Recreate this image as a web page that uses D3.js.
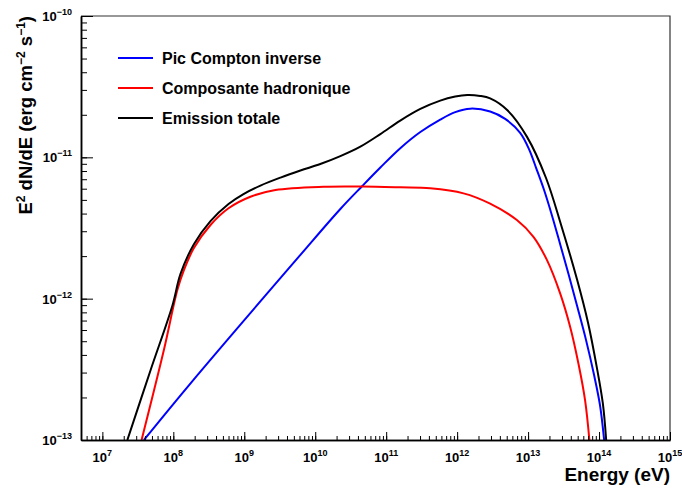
<!DOCTYPE html>
<html>
<head>
<meta charset="utf-8">
<script src="https://cdn.jsdelivr.net/npm/d3@7"></script>
<style>
  html, body { margin: 0; padding: 0; background: #fff; }
  svg { display: block; font-family: "Liberation Sans", Arial, Helvetica, sans-serif; font-weight: bold; }
</style>
</head>
<body>
<svg id="chart" width="682" height="488"></svg>
<script>
// ---- data ----
const seriesNames = ["Pic Compton inverse", "Composante hadronique", "Emission totale"];
const seriesColors = ["#0000ff", "#ff0000", "#000000"];

const icEnergy = [3.85e7, 1.75e8, 6.18e9, 2.26e10, 4.61e10, 8.28e10, 1.58e11, 3.03e11, 5.78e11, 9.40e11, 1.53e12, 2.92e12, 4.75e12, 7.73e12, 1.04e13, 1.30e13, 1.68e13, 2.18e13, 2.83e13, 3.72e13, 4.91e13, 6.56e13, 8.51e13, 1.03e14, 1.18e14];
const icFlux   = [1.0e-13, 2.52e-13, 2.04e-12, 4.31e-12, 6.27e-12, 8.47e-12, 1.16e-11, 1.51e-11, 1.85e-11, 2.09e-11, 2.21e-11, 2.11e-11, 1.87e-11, 1.49e-11, 1.13e-11, 8.39e-12, 5.87e-12, 3.85e-12, 2.43e-12, 1.49e-12, 8.87e-13, 5.09e-13, 2.88e-13, 1.77e-13, 1.0e-13];

const hadEnergy = [3.57e7, 7.36e7, 1.14e8, 1.41e8, 1.95e8, 3.34e8, 6.0e8, 1.22e9, 2.75e9, 1.31e10, 4.57e10, 1.58e11, 4.18e11, 1.23e12, 2.87e12, 6.95e12, 1.19e13, 1.84e13, 2.83e13, 3.91e13, 5.12e13, 6.36e13, 7.31e13];
const hadFlux   = [1.0e-13, 4.33e-13, 1.15e-12, 1.59e-12, 2.28e-12, 3.32e-12, 4.36e-12, 5.26e-12, 5.87e-12, 6.19e-12, 6.21e-12, 6.13e-12, 6.04e-12, 5.56e-12, 4.72e-12, 3.60e-12, 2.74e-12, 1.88e-12, 1.09e-12, 6.33e-13, 3.48e-13, 1.91e-13, 1.0e-13];

const totEnergy = [2.25e7, 4.79e7, 9.77e7, 1.26e8, 1.95e8, 3.34e8, 6.0e8, 9.75e8, 1.69e9, 3.24e9, 6.18e9, 1.18e10, 2.26e10, 4.33e10, 8.28e10, 1.58e11, 3.03e11, 5.78e11, 9.40e11, 1.39e12, 2.11e12, 2.92e12, 5.07e12, 9.70e12, 1.79e13, 2.92e13, 4.91e13, 7.02e13, 9.29e13, 1.13e14, 1.26e14];
const totFlux   = [1.0e-13, 3.13e-13, 9.02e-13, 1.49e-12, 2.43e-12, 3.54e-12, 4.68e-12, 5.50e-12, 6.31e-12, 7.19e-12, 8.07e-12, 8.97e-12, 1.02e-11, 1.19e-11, 1.46e-11, 1.82e-11, 2.20e-11, 2.52e-11, 2.69e-11, 2.76e-11, 2.72e-11, 2.61e-11, 2.16e-11, 1.39e-11, 7.14e-12, 3.32e-12, 1.36e-12, 6.71e-13, 3.28e-13, 1.82e-13, 1.0e-13];

const xTickExponents = [7, 8, 9, 10, 11, 12, 13, 14, 15];
const yTickExponents = [-13, -12, -11, -10];
const xDomain = [5e6, 1e15];
const yDomain = [1e-13, 1e-10];
const xTitle = "Energy (eV)";

// ---- layout ----
const L = 81, R = 670, T = 16, B = 440;
const svg = d3.select("#chart");
const x = d3.scaleLog().domain(xDomain).range([L, R]);
const y = d3.scaleLog().domain(yDomain).range([B, T]);

// frame (top/right)
svg.append("path")
  .attr("d", `M${L},${T}H${R}V${B}`)
  .attr("fill", "none").attr("stroke", "#333").attr("stroke-width", 1.2);

// clip
svg.append("defs").append("clipPath").attr("id", "plotclip")
  .append("rect").attr("x", L).attr("y", T).attr("width", R - L).attr("height", B - T);

// curves
const series = [
  { e: icEnergy, f: icFlux },
  { e: hadEnergy, f: hadFlux },
  { e: totEnergy, f: totFlux }
];
const line = d3.line()
  .x(d => x(d[0])).y(d => y(d[1]))
  .curve(d3.curveCatmullRom.alpha(0.5));
const gCurves = svg.append("g").attr("clip-path", "url(#plotclip)");
series.forEach((s, i) => {
  const pts = s.e.map((v, k) => [v, s.f[k]]);
  gCurves.append("path")
    .datum(pts)
    .attr("d", line)
    .attr("fill", "none")
    .attr("stroke", seriesColors[i])
    .attr("stroke-width", 2)
    .attr("stroke-linejoin", "round");
});

// x axis: ticks inside (pointing up)
const xMinor = [];
for (let p = 6; p < 15; p++) for (let m = 1; m < 10; m++) {
  const v = m * Math.pow(10, p);
  if (v >= xDomain[0] && v <= xDomain[1]) xMinor.push(v);
}
const xMajorVals = xTickExponents.map(p => Math.pow(10, p));
const xAxisMinor = d3.axisBottom(x).tickValues(xMinor).tickSizeInner(-4).tickSizeOuter(0).tickFormat("");
const xAxisMajor = d3.axisBottom(x).tickValues(xMajorVals).tickSizeInner(-8).tickSizeOuter(0).tickFormat("");
const gx1 = svg.append("g").attr("transform", `translate(0,${B})`).call(xAxisMinor);
const gx2 = svg.append("g").attr("transform", `translate(0,${B})`).call(xAxisMajor);
[gx1, gx2].forEach(g => {
  g.selectAll(".tick line").attr("stroke", "#000").attr("stroke-width", 1);
  g.select(".domain").attr("stroke", "#000").attr("stroke-width", 1.5);
});
// x labels
xTickExponents.forEach(p => {
  const t = svg.append("text")
    .attr("x", x(Math.pow(10, p))).attr("y", 462)
    .attr("text-anchor", "middle").attr("font-size", 13).attr("fill", "#000");
  t.append("tspan").text("10");
  t.append("tspan").attr("dy", -6).attr("font-size", 9).text(String(p));
});

// y axis: ticks inside (pointing right)
const yMinor = [];
for (let p = -13; p < -10; p++) for (let m = 1; m < 10; m++) yMinor.push(m * Math.pow(10, p));
const yMajorVals = yTickExponents.map(p => Math.pow(10, p));
const yAxisMinor = d3.axisLeft(y).tickValues(yMinor).tickSizeInner(-6).tickSizeOuter(0).tickFormat("");
const yAxisMajor = d3.axisLeft(y).tickValues(yMajorVals).tickSizeInner(-12).tickSizeOuter(0).tickFormat("");
const gy1 = svg.append("g").attr("transform", `translate(${L},0)`).call(yAxisMinor);
const gy2 = svg.append("g").attr("transform", `translate(${L},0)`).call(yAxisMajor);
[gy1, gy2].forEach(g => {
  g.selectAll(".tick line").attr("stroke", "#000").attr("stroke-width", 1);
  g.select(".domain").attr("stroke", "#000").attr("stroke-width", 1.5);
});
yTickExponents.forEach(p => {
  const t = svg.append("text")
    .attr("x", 72).attr("y", y(Math.pow(10, p)) + 5)
    .attr("text-anchor", "end").attr("font-size", 13).attr("fill", "#000");
  t.append("tspan").text("10");
  t.append("tspan").attr("dy", -6).attr("font-size", 9).text("\u2212" + Math.abs(p));
});

// axis titles
svg.append("text")
  .attr("x", R).attr("y", 481)
  .attr("text-anchor", "end").attr("font-size", 19).attr("fill", "#000")
  .text(xTitle);

const yt = svg.append("text")
  .attr("transform", `translate(32,${T}) rotate(-90)`)
  .attr("text-anchor", "end").attr("font-size", 18.5).attr("fill", "#000");
yt.append("tspan").text("E");
yt.append("tspan").attr("dy", -7).attr("font-size", 12).text("2");
yt.append("tspan").attr("dy", 7).text(" dN/dE (erg cm");
yt.append("tspan").attr("dy", -7).attr("font-size", 12).text("\u22122");
yt.append("tspan").attr("dy", 7).text(" s");
yt.append("tspan").attr("dy", -7).attr("font-size", 12).text("\u22121");
yt.append("tspan").attr("dy", 7).text(")");

// legend
const legendY = [58, 88, 118];
seriesNames.forEach((name, i) => {
  svg.append("line")
    .attr("x1", 118).attr("x2", 153)
    .attr("y1", legendY[i]).attr("y2", legendY[i])
    .attr("stroke", seriesColors[i]).attr("stroke-width", 2);
  svg.append("text")
    .attr("x", 162).attr("y", legendY[i] + 6)
    .attr("font-size", 16).attr("fill", "#000")
    .text(name);
});
</script>
</body>
</html>
